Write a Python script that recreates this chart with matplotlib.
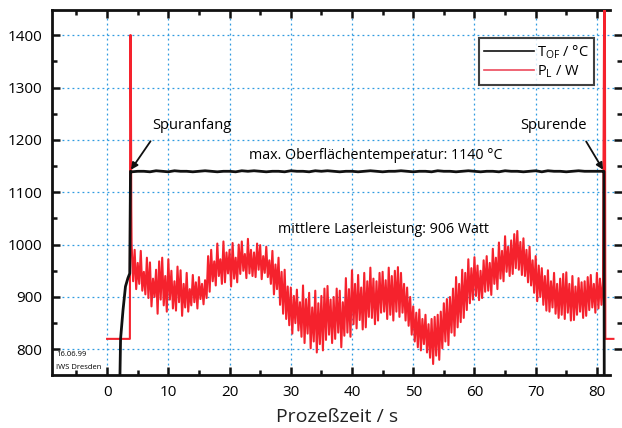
import numpy as np
import matplotlib
matplotlib.use("Agg")
import matplotlib.pyplot as plt
from matplotlib.ticker import MultipleLocator

# ---------------- data ----------------
# laser power P_L / W : start step, spike, noisy band (0.25 s samples), end
laser_start_t = [0.0, 3.72, 3.78, 3.86, 3.95]
laser_start_p = [820, 820, 1400, 1400, 1070]
laser_band_t0 = 4.0
laser_band_dt = 0.25
laser_band = [
    1002, 930, 990, 915,   965, 925, 988, 912,   948, 905, 975, 898,
    966, 882, 935, 900,    952, 868, 968, 895,   975, 884, 940, 872,
    972, 895, 950, 878,    930, 874, 958, 890,   951, 864, 925, 880,
    946, 872, 915, 884,    942, 890, 928, 878,   938, 896, 925, 886,
    932, 898, 978, 910,    990, 930, 968, 922,   1002, 940, 972, 925,
    1006, 928, 985, 945,   990, 920, 1003, 935,  975, 928, 1000, 944,
    1006, 950, 982, 936,   1011, 945, 990, 940,  985, 938, 1002, 952,
    999, 934, 978, 946,    996, 938, 970, 925,   988, 905, 962, 915,
    975, 885, 948, 868,    952, 858, 920, 846,   918, 830, 902, 850,
    914, 836, 890, 824,    922, 812, 896, 830,   908, 802, 880, 815,
    912, 794, 888, 810,    902, 798, 916, 818,   921, 828, 895, 812,
    900, 820, 916, 832,    912, 804, 890, 826,   936, 832, 915, 824,
    951, 848, 925, 840,    942, 856, 918, 838,   946, 842, 930, 862,
    956, 860, 935, 848,    930, 855, 946, 870,   948, 872, 932, 858,
    956, 866, 940, 855,    950, 872, 957, 862,   946, 870, 925, 855,
    918, 845, 900, 828,    882, 815, 870, 804,   876, 798, 858, 810,
    866, 794, 848, 784,    858, 772, 862, 788,   866, 780, 872, 802,
    888, 815, 896, 808,    900, 832, 916, 826,   938, 842, 925, 852,
    952, 860, 946, 875,    972, 888, 955, 895,   976, 902, 960, 894,
    950, 898, 970, 910,    978, 912, 965, 904,   992, 925, 975, 915,
    1004, 935, 988, 930,   1016, 948, 996, 940,  1008, 944, 1020, 955,
    1026, 952, 1005, 942,  1012, 940, 990, 928,  996, 922, 970, 908,
    978, 892, 960, 900,    955, 885, 940, 874,   951, 872, 930, 880,
    946, 868, 925, 860,    935, 866, 944, 858,   947, 870, 925, 855,
    940, 856, 920, 866,    936, 872, 928, 860,   930, 864, 938, 875,
    942, 880, 925, 870,    946, 878, 935, 885,
]
laser_end_t = [81.0, 81.2, 81.3, 81.38, 82.7]
laser_end_p = [930, 1500, 1500, 820, 820]

# surface temperature T_OF / deg C
temp_start_t = [2.1, 2.2, 2.6, 3.0, 3.4, 3.7, 3.82]
temp_start_v = [751, 820, 875, 920, 936, 945, 1140]
temp_flat_t0 = 4.0
temp_flat_dt = 1.0
temp_flat = [
    1139, 1140, 1140, 1139, 1141, 1140, 1139, 1141, 1140, 1140,
    1139, 1140, 1141, 1140, 1139, 1140, 1140, 1139, 1141, 1140,
    1141, 1140, 1139, 1140, 1140, 1139, 1141, 1140, 1140, 1139,
    1141, 1140, 1141, 1140, 1139, 1140, 1140, 1139, 1140, 1141,
    1140, 1139, 1140, 1140, 1141, 1140, 1139, 1140, 1140, 1139,
    1141, 1140, 1140, 1139, 1140, 1141, 1140, 1139, 1140, 1140,
    1139, 1141, 1140, 1140, 1139, 1140, 1141, 1139, 1141, 1140,
    1140, 1139, 1140, 1141, 1140, 1140, 1140, 1140,
]
temp_end_t = [81.15, 81.2]
temp_end_v = [1140, 751]

x_ticks = [0, 10, 20, 30, 40, 50, 60, 70, 80]
y_ticks = [800, 900, 1000, 1100, 1200, 1300, 1400]

# ---------------- assemble ----------------
band_t = laser_band_t0 + laser_band_dt * np.arange(len(laser_band))
p_t = np.concatenate([laser_start_t, band_t, laser_end_t])
p_v = np.concatenate([laser_start_p, laser_band, laser_end_p])

flat_t = temp_flat_t0 + temp_flat_dt * np.arange(len(temp_flat))
t_t = np.concatenate([temp_start_t, flat_t, temp_end_t])
t_v = np.concatenate([temp_start_v, temp_flat, temp_end_v])

# ---------------- plot ----------------
plt.rcParams['font.family'] = ['Open Sans', 'DejaVu Sans']
fig = plt.figure(figsize=(6.22, 4.28), dpi=100)
ax = fig.add_axes([52/622, 1-375/428, (622-52)/622, (375-10)/428])

ax.set_xlim(-9, 84.1)
ax.set_ylim(751, 1448)

ax.plot(t_t, t_v, color='#111111', lw=2.0, zorder=4, label='T$_{\\mathregular{OF}}$ / °C')
ax.plot(p_t, p_v, color='#f5222d', lw=1.5, zorder=3, label='P$_{\\mathregular{L}}$ / W')

# grid
for xv in x_ticks:
    ax.axvline(xv, color='#2f9be0', lw=0.9, ls=(0, (1.5, 2.5)), zorder=1)
for yv in y_ticks:
    ax.axhline(yv, color='#2f9be0', lw=0.9, ls=(0, (1.5, 2.5)), zorder=1)

ax.set_xticks(x_ticks)
ax.set_yticks(y_ticks)
ax.xaxis.set_minor_locator(MultipleLocator(5))
ax.yaxis.set_minor_locator(MultipleLocator(50))
ax.tick_params(which='both', direction='in', top=True, right=True,
               width=1.8, color='#111111')
ax.tick_params(which='major', length=6, labelsize=11, pad=7)
ax.tick_params(which='minor', length=3.5)
for s in ['left', 'bottom', 'top']:
    ax.spines[s].set_linewidth(2.0)
    ax.spines[s].set_color('#111111')
ax.spines['right'].set_visible(False)
ax.spines['bottom'].set_bounds(-9, 82.2)
ax.spines['top'].set_bounds(-9, 82.2)

ax.set_xlabel('Prozeßzeit / s', fontsize=14, labelpad=6, color='#222222')

# annotations
ax.annotate('Spuranfang', xy=(3.9, 1143), xytext=(7.4, 1228),
            fontsize=10.5, va='center', ha='left',
            arrowprops=dict(arrowstyle='-|>', color='#111111', lw=1.3,
                            shrinkA=5, shrinkB=0, mutation_scale=10,
                            relpos=(0.05, 0.0)))
ax.annotate('Spurende', xy=(81.0, 1143), xytext=(67.4, 1228),
            fontsize=10.5, va='center', ha='left',
            arrowprops=dict(arrowstyle='-|>', color='#111111', lw=1.3,
                            shrinkA=5, shrinkB=0, mutation_scale=10,
                            relpos=(0.92, 0.0)))
ax.text(43.8, 1171, 'max. Oberflächentemperatur: 1140 °C', fontsize=10.3,
        ha='center', va='center')
ax.text(45.2, 1028, 'mittlere Laserleistung: 906 Watt', fontsize=10.3,
        ha='center', va='center')

ax.text(-8.3, 790, '16.06.99', fontsize=5.5, ha='left', va='center')
ax.text(-8.3, 766, 'IWS Dresden', fontsize=5.5, ha='left', va='center')

leg = ax.legend(loc='upper right', bbox_to_anchor=((594-52)/570, (375-38)/365),
                fontsize=10.5, frameon=True, fancybox=False, handlelength=3.4,
                borderpad=0.35, labelspacing=0.15, handletextpad=0.2,
                borderaxespad=0)
leg.get_frame().set_edgecolor('#111111')
leg.get_frame().set_linewidth(1.5)
leg.get_lines()[0].set_linewidth(1.2)
leg.get_lines()[1].set_linewidth(1.2)
leg.get_lines()[1].set_color('#ec4a5c')

fig.savefig('out.png', dpi=100)
